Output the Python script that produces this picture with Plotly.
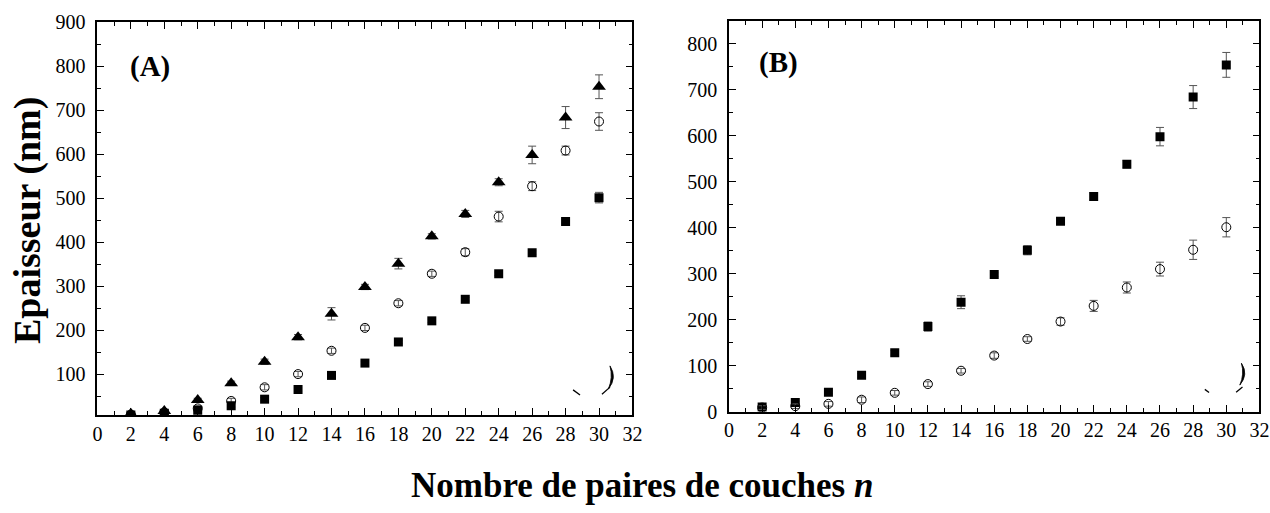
import plotly.graph_objects as go

# number of layer pairs
n = [2, 4, 6, 8, 10, 12, 14, 16, 18, 20, 22, 24, 26, 28, 30]

# panel A: three series (triangles, open circles, squares)
a_tri = [10, 16, 41, 79, 128, 184, 237, 298, 351, 413, 464, 536, 598, 683, 753]
a_tri_err = [3, 3, 4, 5, 6, 6, 14, 6, 12, 6, 8, 8, 20, 25, 27]
a_circ = [8, 13, 22, 39, 70, 100, 153, 205, 261, 328, 377, 458, 527, 608, 674]
a_circ_err = [4, 5, 6, 6, 6, 6, 6, 6, 6, 6, 8, 12, 10, 10, 20]
a_sq = [7, 11, 18, 28, 43, 65, 97, 125, 173, 221, 270, 328, 376, 447, 501]
a_sq_err = [2, 2, 3, 3, 4, 4, 4, 4, 4, 4, 4, 4, 4, 4, 12]

# panel B: two series (squares, open circles)
b_sq = [10, 20, 42, 79, 128, 185, 238, 298, 351, 414, 468, 538, 598, 684, 754]
b_sq_err = [2, 3, 3, 4, 5, 10, 14, 4, 10, 6, 8, 8, 20, 25, 27]
b_circ = [9, 12, 17, 26, 41, 60, 89, 122, 158, 196, 230, 270, 310, 352, 401]
b_circ_err = [4, 5, 5, 6, 5, 5, 5, 6, 5, 8, 12, 12, 15, 21, 21]

x_ticks = list(range(0, 33, 2))

SERIF = "Liberation Serif"
ERR_COLOR = "#555555"


def err(values):
    return dict(type="data", array=values, visible=True, color=ERR_COLOR,
                thickness=1, width=4)


fig = go.Figure()

fig.add_trace(go.Scatter(x=n, y=a_tri, mode="markers", error_y=err(a_tri_err),
                         marker=dict(symbol="triangle-up", size=12, color="black"),
                         xaxis="x", yaxis="y"))
fig.add_trace(go.Scatter(x=n, y=a_circ, mode="markers", error_y=err(a_circ_err),
                         marker=dict(symbol="circle-open", size=9, color="black",
                                     line=dict(width=1, color="black")),
                         xaxis="x", yaxis="y"))
fig.add_trace(go.Scatter(x=n, y=a_sq, mode="markers", error_y=err(a_sq_err),
                         marker=dict(symbol="square", size=9, color="black"),
                         xaxis="x", yaxis="y"))

fig.add_trace(go.Scatter(x=n, y=b_sq, mode="markers", error_y=err(b_sq_err),
                         marker=dict(symbol="square", size=9, color="black"),
                         xaxis="x2", yaxis="y2"))
fig.add_trace(go.Scatter(x=n, y=b_circ, mode="markers", error_y=err(b_circ_err),
                         marker=dict(symbol="circle-open", size=9, color="black",
                                     line=dict(width=1, color="black")),
                         xaxis="x2", yaxis="y2"))

axis_common = dict(
    showline=True, linecolor="black", linewidth=1.6, mirror="ticks",
    ticks="inside", ticklen=7, tickwidth=1.4, tickcolor="black",
    showgrid=False, zeroline=False, automargin=False,
    tickfont=dict(family=SERIF, size=20, color="black"),
)

xaxis_common = dict(axis_common, range=[0, 32], tickvals=x_ticks,
                    minor=dict(ticks="inside", ticklen=4, tickwidth=1.2,
                               dtick=1, tick0=0, tickcolor="black", showgrid=False))

fig.update_layout(
    width=1270, height=513,
    margin=dict(l=0, r=0, t=0, b=0, pad=0, autoexpand=False),
    font=dict(family=SERIF, color="black"),
    paper_bgcolor="white", plot_bgcolor="white",
    showlegend=False,
    xaxis=dict(xaxis_common, domain=[0.0767, 0.498], anchor="y"),
    yaxis=dict(axis_common, domain=[0.191, 0.957], anchor="x",
               range=[7, 900], tick0=100, dtick=100, ticklabelstandoff=6,
               minor=dict(ticks="inside", ticklen=4, tickwidth=1.2, dtick=50,
                          tick0=0, tickcolor="black", showgrid=False)),
    xaxis2=dict(xaxis_common, domain=[0.574, 0.9917], anchor="y2"),
    yaxis2=dict(axis_common, domain=[0.1975, 0.9596], anchor="x2",
                range=[0, 850], tick0=0, dtick=100, ticklabelstandoff=6,
                minor=dict(ticks="inside", ticklen=4, tickwidth=1.2, dtick=50,
                           tick0=0, tickcolor="black", showgrid=False)),
)

label_common = dict(xref="paper", yref="paper", showarrow=False,
                    xanchor="center", yanchor="middle")
fig.update_layout(annotations=[
    dict(label_common, text="<b>(A)</b>", x=150 / 1270, y=1 - 67 / 513,
         font=dict(family=SERIF, size=29, color="black")),
    dict(label_common, text="<b>(B)</b>", x=778 / 1270, y=1 - 63 / 513,
         font=dict(family=SERIF, size=29, color="black")),
    dict(label_common, text="<b>Epaisseur (nm)</b>", x=27 / 1270, y=1 - 221 / 513,
         textangle=-90, font=dict(family=SERIF, size=38, color="black")),
    dict(label_common, text="<b>Nombre de paires de couches <i>n</i></b>",
         x=642 / 1270, y=1 - 485 / 513,
         font=dict(family=SERIF, size=35, color="black")),
])


# small crescent and dash strokes near the lower-right corner of each panel
def corner_marks(xr, yr, cx, ytop, ybot, d1, d2):
    mid = (ytop + ybot) / 2
    path = (f"M {cx:.4f} {ytop:.4f} Q {cx + 0.014:.4f} {mid:.4f} {cx - 0.003:.4f} {ybot:.4f} "
            f"Q {cx + 0.006:.4f} {mid:.4f} {cx:.4f} {ytop:.4f} Z")
    shapes = [dict(type="path", path=path, xref=xr, yref=yr,
                   fillcolor="black", line=dict(color="black", width=0.8))]
    for (x0, y0, x1, y1) in (d1, d2):
        shapes.append(dict(type="line", x0=x0, y0=y0, x1=x1, y1=y1, xref=xr, yref=yr,
                           line=dict(color="black", width=1.3)))
    return shapes


shapes = []
shapes += corner_marks("x domain", "y domain", 0.958, 0.125, 0.066,
                       (0.889, 0.064, 0.902, 0.051), (0.943, 0.053, 0.958, 0.071))
shapes += corner_marks("x2 domain", "y2 domain", 0.966, 0.124, 0.068,
                       (0.897, 0.057, 0.905, 0.049), (0.956, 0.050, 0.968, 0.063))
fig.update_layout(shapes=shapes)

fig.write_html("out.html")
